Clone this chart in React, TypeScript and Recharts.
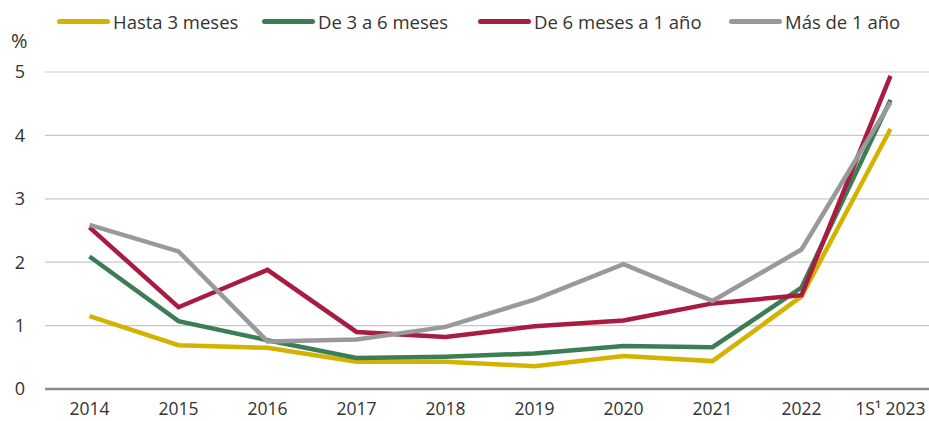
import { LineChart, Line, XAxis, YAxis, CartesianGrid } from 'recharts';

const years = ['2014', '2015', '2016', '2017', '2018', '2019', '2020', '2021', '2022', '1S¹ 2023'];
const hasta3 = [1.15, 0.69, 0.65, 0.43, 0.43, 0.36, 0.52, 0.44, 1.46, 4.1];
const de3a6 = [2.09, 1.07, 0.77, 0.49, 0.51, 0.56, 0.68, 0.66, 1.6, 4.56];
const de6a12 = [2.55, 1.29, 1.88, 0.9, 0.82, 0.99, 1.08, 1.35, 1.48, 4.94];
const mas1 = [2.59, 2.17, 0.75, 0.78, 0.98, 1.41, 1.97, 1.39, 2.2, 4.52];
const yTicks = [0, 1, 2, 3, 4, 5];

const series = [
  { key: 'hasta3', name: 'Hasta 3 meses', color: '#D4B300', values: hasta3 },
  { key: 'de3a6', name: 'De 3 a 6 meses', color: '#3B7D55', values: de3a6 },
  { key: 'de6a12', name: 'De 6 meses a 1 año', color: '#A91C41', values: de6a12 },
  { key: 'mas1', name: 'Más de 1 año', color: '#999999', values: mas1 },
];
// left edge of each legend item
const legendX = [57, 262, 478, 729];

const data = years.map((year, i) => {
  const row: Record<string, string | number> = { year };
  series.forEach(s => { row[s.key] = s.values[i]; });
  return row;
});

const font = '"Open Sans", sans-serif';

function XTick({ x, y, payload }: { x?: number; y?: number; payload?: { value: string } }) {
  return (
    <text x={x} y={(y ?? 0) + 18} textAnchor="middle" fill="#333" fontSize={17.5} fontFamily={font}>
      {payload?.value}
    </text>
  );
}

export default function App() {
  return (
    <div style={{ position: 'absolute', left: 0, top: 0, width: 929, height: 421, overflow: 'hidden', background: '#fff', fontFamily: font }}>
      {series.map((s, i) => (
        <div key={s.key} style={{ position: 'absolute', top: 9, left: legendX[i], display: 'flex', alignItems: 'center', fontSize: 18.5, color: '#333', whiteSpace: 'nowrap' }}>
          <div style={{ width: 53, height: 5, borderRadius: 3, background: s.color, marginRight: 3 }} />
          <span>{s.name}</span>
        </div>
      ))}
      <div style={{ position: 'absolute', top: 27, left: 11, fontSize: 20, color: '#333' }}>%</div>
      <LineChart width={940} height={421} data={data} margin={{ top: 72, right: 5, left: 0, bottom: 0 }}>
        <CartesianGrid vertical={false} stroke="#c8c8c8" strokeWidth={1.2} />
        <XAxis
          dataKey="year"
          height={32}
          tickLine={false}
          axisLine={{ stroke: '#8c8c8c', strokeWidth: 2.5 }}
          tick={<XTick />}
          interval={0}
          padding={{ left: 44.5, right: 44.5 }}
        />
        <YAxis
          width={45}
          domain={[0, 5]}
          ticks={yTicks}
          tickLine={false}
          axisLine={false}
          tickSize={0}
          tickMargin={20}
          tick={{ fill: '#333', fontSize: 18, fontFamily: font }}
        />
        {series.map(s => (
          <Line
            key={s.key}
            dataKey={s.key}
            name={s.name}
            stroke={s.color}
            strokeWidth={4.5}
            dot={false}
            type="linear"
            isAnimationActive={false}
          />
        ))}
      </LineChart>
    </div>
  );
}
